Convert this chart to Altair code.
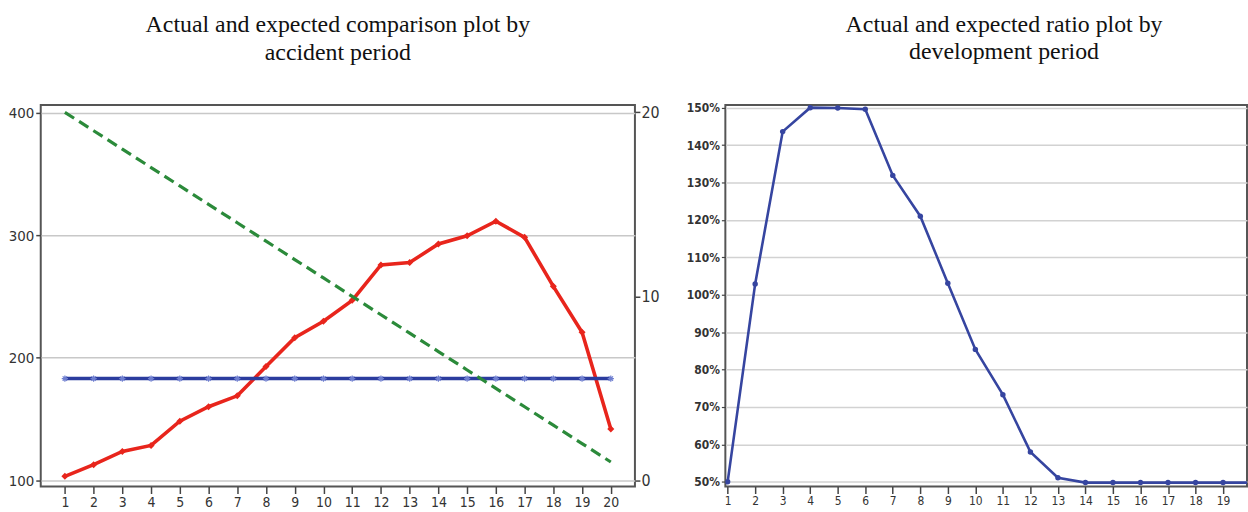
import altair as alt
import pandas as pd

# ---------------- data ----------------
periods = list(range(1, 21))
actual = [103.2, 112.7, 123.5, 128.4, 148.2, 160.0, 168.9, 192.8, 216.3, 229.8,
          246.8, 275.7, 277.6, 292.8, 299.5, 311.4, 298.2, 258.2, 220.8, 141.9]
expected = [183, 183, 183, 183, 183, 183, 183, 183, 183, 183,
            183, 183, 183, 183, 183, 183, 183, 183, 183, 183]
trend = [20, 19, 18, 17, 16, 15, 14, 13, 12, 11,
         10, 9, 8, 7, 6, 5, 4, 3, 2, 1]
ratio = [50.0, 102.9, 143.6, 150.0, 149.9, 149.6, 131.9, 121.0, 103.1, 85.4,
         73.3, 58.0, 51.1, 49.8, 49.8, 49.8, 49.8, 49.8, 49.8, 49.8]

left_ticks = [100, 200, 300, 400]
right_ticks = [0, 10, 20]
ratio_ticks = [50, 60, 70, 80, 90, 100, 110, 120, 130, 140, 150]

RED = "#e8251c"
BLUE = "#2b3c9e"
GREEN = "#2b8a3a"
BLUE2 = "#3645a0"
LABEL_FONT = "Liberation Sans Narrow, Arial Narrow, DejaVu Sans Condensed, sans-serif"
TITLE_FONT = "Liberation Serif, Times New Roman, serif"

df_act = pd.DataFrame({"period": periods, "value": actual})
df_exp = pd.DataFrame({"period": periods, "value": expected})
df_tr = pd.DataFrame({"period": periods, "trend": trend})
df_ratio = pd.DataFrame({"period": periods, "ratio": ratio})

# ---------------- left chart ----------------
x_axis = alt.Axis(values=periods, title=None, grid=False, tickSize=7, tickColor="#444",
                  tickWidth=1.5, labelFont=LABEL_FONT, labelFontSize=14, labelColor="#333",
                  labelPadding=2, domain=False)
x_left = alt.X("period:Q", scale=alt.Scale(domain=[0.16, 20.84], nice=False, zero=False),
               axis=x_axis)
y_axis = alt.Axis(values=left_ticks, title=None, grid=True, gridColor="#c8c8c8",
                  gridWidth=1.5, tickSize=5, tickColor="#444", tickWidth=1.5,
                  labelFont=LABEL_FONT, labelFontSize=15, labelColor="#333",
                  labelPadding=2, domain=False)
y_scale = alt.Scale(domain=[94.9, 406.2], nice=False, zero=False)
y_left = alt.Y("value:Q", scale=y_scale, axis=y_axis)

red_line = alt.Chart(df_act).mark_line(color=RED, strokeWidth=3.6).encode(x=x_left, y=y_left)
red_pts = alt.Chart(df_act).mark_point(shape="diamond", filled=True, color=RED, size=50,
                                       opacity=1).encode(x=x_left, y=y_left)
blue_line = alt.Chart(df_exp).mark_line(color=BLUE, strokeWidth=3.6).encode(x=x_left, y=y_left)
star = "M-1,0L1,0M0,-1L0,1M-0.7,-0.7L0.7,0.7M-0.7,0.7L0.7,-0.7"
blue_pts = alt.Chart(df_exp).mark_point(shape=star, filled=False, color="#6f7fd0",
                                        size=40, strokeWidth=1.2, opacity=1).encode(x=x_left, y=y_left)

y_right = alt.Y("trend:Q", scale=alt.Scale(domain=[-0.333, 20.4], nice=False, zero=False),
                axis=alt.Axis(values=right_ticks, title=None, grid=False, orient="right",
                              tickSize=5, tickColor="#444", tickWidth=1.5,
                              labelFont=LABEL_FONT, labelFontSize=16, labelColor="#333",
                              labelPadding=1, domain=False))
green_line = alt.Chart(df_tr).mark_line(color=GREEN, strokeWidth=3.2,
                                        strokeDash=[11, 6]).encode(x=x_left, y=y_right)

left = alt.layer(
    alt.layer(red_line, blue_line, red_pts, blue_pts),
    green_line,
).resolve_scale(y="independent").properties(
    width=598, height=384,
    title=alt.TitleParams(["Actual and expected comparison plot by", "accident period"],
                          font=TITLE_FONT, fontSize=24, fontWeight="normal", lineHeight=28,
                          anchor="middle", color="#111", offset=40),
)

# ---------------- right chart ----------------
x_right = alt.X("period:Q", scale=alt.Scale(domain=[0.917, 19.87], nice=False, zero=False),
                axis=alt.Axis(values=periods[:19], title=None, grid=False, tickSize=7,
                              tickColor="#444", tickWidth=1.5, labelFont=LABEL_FONT,
                              labelFontSize=12, labelColor="#333", labelPadding=2,
                              domain=False))
y_ratio = alt.Y("ratio:Q", scale=alt.Scale(domain=[48.75, 150.72], nice=False, zero=False),
                axis=alt.Axis(values=ratio_ticks, title=None, grid=True, gridColor="#d2d2d2",
                              gridWidth=1.5, tickSize=4, tickColor="#444", tickWidth=1.2,
                              labelFont=LABEL_FONT, labelFontSize=12, labelColor="#333",
                              labelFontWeight="bold", labelPadding=2, domain=False,
                              labelExpr="datum.value + '%'"))
ratio_line = alt.Chart(df_ratio).mark_line(color=BLUE2, strokeWidth=2.6, clip=True).encode(
    x=x_right, y=y_ratio)
ratio_pts = alt.Chart(df_ratio).mark_point(filled=True, color=BLUE2, size=30, opacity=1,
                                           clip=True).encode(x=x_right, y=y_ratio)

right = alt.layer(ratio_line, ratio_pts).properties(
    width=525, height=384,
    title=alt.TitleParams(["Actual and expected ratio plot by", "development period"],
                          font=TITLE_FONT, fontSize=24, fontWeight="normal", lineHeight=28,
                          anchor="middle", color="#111", offset=37.5, dx=18),
)

chart = alt.hconcat(left, right, spacing=24).properties(
    padding={"left": 7, "top": 10, "right": 0, "bottom": 0},
    background="white",
).configure_view(stroke="#555", strokeWidth=2)

chart.save("out.html", embed_options={"renderer": "svg", "actions": False})
